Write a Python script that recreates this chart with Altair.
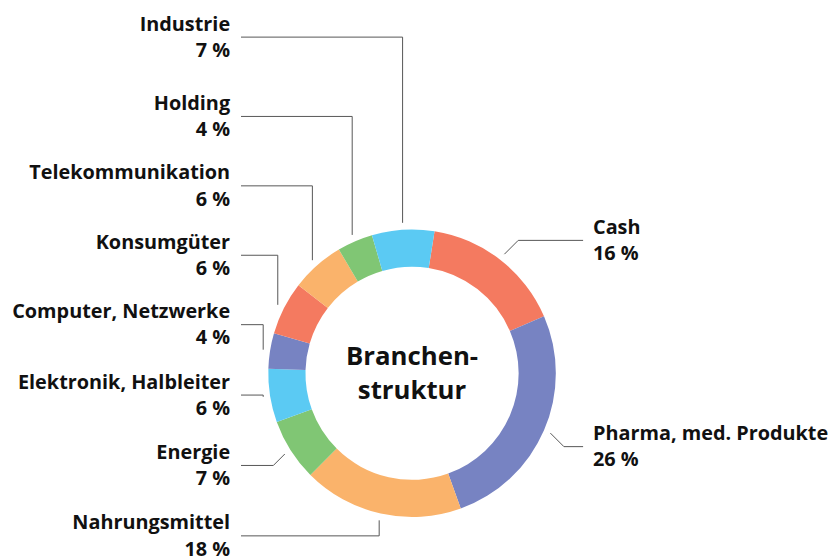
import math
import altair as alt
import pandas as pd

# ---- data ----
names = ["Cash", "Pharma, med. Produkte", "Nahrungsmittel", "Energie",
         "Elektronik, Halbleiter", "Computer, Netzwerke", "Konsumgüter",
         "Telekommunikation", "Holding", "Industrie"]
values = [16, 26, 18, 7, 6, 4, 6, 6, 4, 7]
pct_labels = [f"{v} %" for v in values]
center_title = ["Branchen-", "struktur"]

# ---- styling / layout ----
SAL, VIO, ORA, GRN, CYA = "#F47A60", "#7783C2", "#FAB36B", "#80C674", "#5BCAF3"
colors = [SAL, VIO, ORA, GRN, CYA, VIO, SAL, ORA, GRN, CYA]
W, H = 821, 543
OFFX, OFFY = 5, 6
cx, cy = 412.5 - OFFX, 372 - OFFY
R_OUT, R_IN, R_LEAD = 145, 107.5, 152
start = math.radians(9)
FONT = "Open Sans"
FS = 20

# label leader line y (page coords), side, style
line_y = [238, 446, 536, 465, 394, 323, 253, 183, 113, 33]
side = ["r", "r", "l", "l", "l", "l", "l", "l", "l", "l"]
style = ["d", "d", "v", "d", "v", "v", "v", "v", "v", "v"]
END_L, END_R = 240, 585
TXT_L, TXT_R = 229, 595

df = pd.DataFrame({"name": names, "value": values, "idx": list(range(len(names)))})

# leader lines
rows = []
cum = 0
for i, (n, v) in enumerate(zip(names, values)):
    a = start + 2 * math.pi * (cum + v / 2) / 100
    cum += v
    ax = cx + R_LEAD * math.sin(a)
    ay = cy - R_LEAD * math.cos(a)
    ly = line_y[i] - OFFY
    sgn = 1 if side[i] == "r" else -1
    ex = (END_R if side[i] == "r" else END_L) - OFFX
    if style[i] == "d":
        mid = (ax + sgn * abs(ly - ay), ly)
    else:
        mid = (ax, ly)
    for s, (px, py) in enumerate([(ax, ay), mid, (ex, ly)]):
        rows.append({"name": n, "seq": s, "x": px, "y": py})
lines_df = pd.DataFrame(rows)

# text labels
trows = []
for i, n in enumerate(names):
    ly = line_y[i] - OFFY
    tx = (TXT_R if side[i] == "r" else TXT_L) - OFFX
    trows.append({"t": n, "x": tx, "y": ly - 12.5, "side": side[i]})
    trows.append({"t": pct_labels[i], "x": tx, "y": ly + 14, "side": side[i]})
text_df = pd.DataFrame(trows)

center_df = pd.DataFrame({"t": center_title, "x": [cx, cx], "y": [356 - OFFY, 390 - OFFY]})

xs = alt.Scale(domain=[0, W], nice=False, zero=False)
ys = alt.Scale(domain=[0, H], nice=False, zero=False, reverse=True)

arc = alt.Chart(df).mark_arc(outerRadius=R_OUT, innerRadius=R_IN).encode(
    theta=alt.Theta("value:Q", stack=True,
                    scale=alt.Scale(range=[start, start + 2 * math.pi])),
    color=alt.Color("name:N", scale=alt.Scale(domain=names, range=colors), legend=None),
    order=alt.Order("idx:Q"),
    x=alt.value(cx),
    y=alt.value(cy),
)

leaders = alt.Chart(lines_df).mark_line(color="#555555", strokeWidth=1).encode(
    x=alt.X("x:Q", scale=xs, axis=None),
    y=alt.Y("y:Q", scale=ys, axis=None),
    detail="name:N",
    order="seq:Q",
)

txt_l = alt.Chart(text_df).transform_filter("datum.side == 'l'").mark_text(
    align="right", baseline="middle", font=FONT, fontWeight="bold", fontSize=FS, color="#111111"
).encode(x=alt.X("x:Q", scale=xs, axis=None), y=alt.Y("y:Q", scale=ys, axis=None), text="t:N")

txt_r = alt.Chart(text_df).transform_filter("datum.side == 'r'").mark_text(
    align="left", baseline="middle", font=FONT, fontWeight="bold", fontSize=FS, color="#111111"
).encode(x=alt.X("x:Q", scale=xs, axis=None), y=alt.Y("y:Q", scale=ys, axis=None), text="t:N")

center = alt.Chart(center_df).mark_text(
    align="center", baseline="middle", font=FONT, fontWeight="bold", fontSize=26, color="#111111"
).encode(x=alt.X("x:Q", scale=xs, axis=None), y=alt.Y("y:Q", scale=ys, axis=None), text="t:N")

chart = alt.layer(leaders, arc, txt_l, txt_r, center).properties(
    width=W, height=H, padding=0
).configure_view(stroke=None)

chart.save("out.html", embed_options={"renderer": "svg", "actions": False})
